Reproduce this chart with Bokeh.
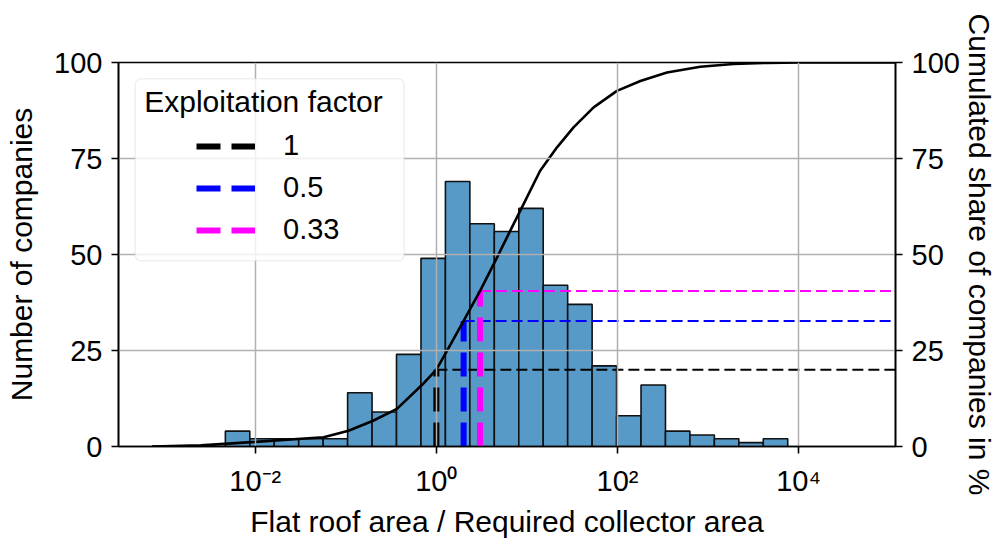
import numpy as np
from bokeh.plotting import figure
from bokeh.models import (LinearAxis, Range1d, FixedTicker, CustomJSTickFormatter,
                          Legend, LegendItem, BoxAnnotation, Label)
from bokeh.embed import file_html
from bokeh.resources import INLINE

# ---- data ----
# histogram bin edges (log10 of flat roof area / required collector area)
bin_edges_log10 = [-3.14, -2.87, -2.60, -2.33, -2.06, -1.79, -1.52, -1.25, -0.98,
                   -0.71, -0.44, -0.17, 0.10, 0.37, 0.64, 0.91, 1.18, 1.45, 1.72,
                   1.99, 2.26, 2.53, 2.80, 3.07, 3.34, 3.61, 3.88]
counts = [0, 0, 0, 4, 2, 2, 2, 2, 14, 9, 24, 49, 69, 58, 56, 62, 42, 37, 21, 8,
          16, 4, 3, 2, 1, 2]

# cumulated share curve (ratio, percent)
cdf_ratio = [0.000724, 0.00251, 0.01, 0.0569, 0.107, 0.200, 0.367, 0.692, 1.0,
             1.31, 2.0, 3.05, 4.67, 6.55, 9.18, 14.0, 21.5, 32.7, 54.5, 98.6,
             179, 352, 820, 1914, 4477, 10470, 117490]
cdf_share = [0.0, 0.3, 1.2, 2.4, 4.1, 6.7, 9.8, 16.0, 20.0, 24.9, 32.7, 40.6,
             49.2, 56.2, 63.1, 71.8, 77.9, 83.1, 88.3, 92.6, 95.2, 97.4, 98.9,
             99.6, 99.9, 100.0, 100.0]

# exploitation factors
factor_labels = ["1", "0.5", "0.33"]
factor_ratio = [1.0, 2.0, 3.03]
factor_share = [20.0, 32.7, 40.5]
factor_colors = ["#000000", "#0000ff", "#ff00ff"]

x_ticks = [1e-2, 1e0, 1e2, 1e4]
y_ticks = [0, 25, 50, 75, 100]
right_title = "Cumulated share of companies in %"

FONT = "Liberation Sans"
X_START, X_END = 10 ** -3.51, 10 ** 5.07

p = figure(width=998, height=542, x_axis_type="log",
           x_range=Range1d(X_START, X_END), y_range=Range1d(0, 100),
           output_backend="svg", toolbar_location=None,
           min_border_left=118, min_border_right=103,
           min_border_top=62, min_border_bottom=96)
p.extra_y_ranges = {"share": Range1d(0, 100)}
p.background_fill_color = "white"
p.border_fill_color = "white"
p.outline_line_color = "black"
p.outline_line_width = 1.6

# histogram
edges = 10 ** np.array(bin_edges_log10)
bars = p.quad(left=edges[:-1], right=edges[1:], bottom=0, top=counts,
              fill_color="#5799c7", line_color="#111111", line_width=1.6)
bars.level = "underlay"

# factor lines
seg_renderers = []
for lab, r, s, c in zip(factor_labels, factor_ratio, factor_share, factor_colors):
    v = p.segment(x0=[r], y0=[0], x1=[r], y1=[s], line_color=c, line_width=6,
                  line_dash="24 11", y_range_name="share")
    p.segment(x0=[r], y0=[s], x1=[X_END], y1=[s], line_color=c, line_width=2,
              line_dash="11 5", y_range_name="share")
    seg_renderers.append(v)

# cumulated curve
p.line(cdf_ratio, cdf_share, line_color="black", line_width=2.6, y_range_name="share")

# grid above bars
for g in (p.xgrid, p.ygrid):
    g.grid_line_color = "#b0b0b0"
    g.grid_line_width = 1.5
    g.level = "glyph"
p.xgrid.ticker = FixedTicker(ticks=x_ticks)
p.ygrid.ticker = FixedTicker(ticks=y_ticks)

sup = CustomJSTickFormatter(code="""
const m = {'-':'\u207b','0':'\u2070','1':'\u00b9','2':'\u00b2','3':'\u00b3','4':'\u2074',
           '5':'\u2075','6':'\u2076','7':'\u2077','8':'\u2078','9':'\u2079'};
const e = Math.round(Math.log10(tick));
return '10' + String(e).split('').map(c => m[c]).join('');
""")

def style_axis(ax, std, als):
    ax.axis_line_color = "black"
    ax.axis_line_width = 1.6
    ax.major_tick_line_color = "black"
    ax.major_tick_line_width = 1.6
    ax.major_tick_out = 7
    ax.major_tick_in = 0
    ax.minor_tick_line_color = None
    ax.major_label_text_font = FONT
    ax.major_label_text_font_size = "29px"
    ax.major_label_text_color = "black"
    ax.major_label_standoff = std
    ax.axis_label_text_font = FONT
    ax.axis_label_text_font_size = "30px"
    ax.axis_label_text_font_style = "normal"
    ax.axis_label_text_color = "black"
    ax.axis_label_standoff = als

xa = p.xaxis[0]
xa.ticker = FixedTicker(ticks=x_ticks)
xa.formatter = sup
xa.axis_label = "Flat roof area / Required collector area"
style_axis(xa, 11, 5)

ya = p.yaxis[0]
ya.ticker = FixedTicker(ticks=y_ticks)
ya.axis_label = "Number of companies"
style_axis(ya, 9, 13)

# right axis: cumulated share
ra = LinearAxis(y_range_name="share", ticker=FixedTicker(ticks=y_ticks),
                axis_label=right_title)
style_axis(ra, 9, 0)
p.add_layout(ra, "right")

# legend frame + title + entries
box = BoxAnnotation(left=16.7, right=285.7, bottom=185.8, top=367.8,
                    left_units="screen", right_units="screen",
                    bottom_units="screen", top_units="screen",
                    fill_color="white", fill_alpha=0.8,
                    line_color="#cccccc", line_width=1.6, border_radius=6)
p.add_layout(box)
p.add_layout(Label(x=25.7, y=345, x_units="screen", y_units="screen",
                   text="Exploitation factor", text_font=FONT,
                   text_font_size="30px", text_color="black",
                   text_baseline="alphabetic"))
legend = Legend(items=[LegendItem(label=l, renderers=[r])
                       for l, r in zip(factor_labels, seg_renderers)],
                location=(78, 200), padding=0, margin=0, spacing=9,
                glyph_width=59, glyph_height=20, label_standoff=28,
                label_text_font=FONT, label_text_font_size="29px",
                label_text_color="black",
                background_fill_alpha=0, border_line_alpha=0)
p.add_layout(legend)

open("out.html", "w").write(file_html(p, INLINE))
